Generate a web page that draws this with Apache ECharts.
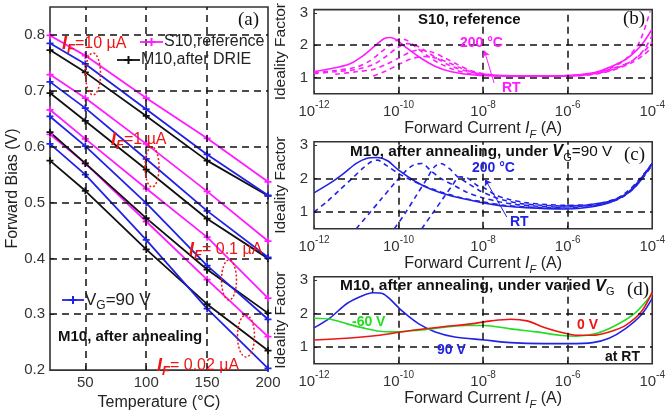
<!DOCTYPE html>
<html>
<head>
<meta charset="utf-8">
<script src="https://cdn.jsdelivr.net/npm/echarts@6/dist/echarts.min.js"></script>
<style>
html, body { margin: 0; padding: 0; background: #fff; }
#main { width: 668px; height: 416px; }
</style>
</head>
<body>
<div id="main"></div>
<script>
// ---- (a) forward bias vs temperature ----
const temps = [21, 50, 100, 150, 200];
const tempTicks = [50, 100, 150, 200];
const biasTicks = [0.2, 0.3, 0.4, 0.5, 0.6, 0.7, 0.8];

// S10, reference (magenta)
const s10_10uA = [0.799, 0.763, 0.687, 0.615, 0.537];
const s10_1uA = [0.729, 0.687, 0.605, 0.520, 0.431];
const s10_01uA = [0.666, 0.614, 0.525, 0.438, 0.329];
const s10_002uA = [0.622, 0.570, 0.466, 0.362, 0.260];
// M10, after DRIE (black)
const drie_10uA = [0.773, 0.733, 0.655, 0.575, 0.512];
const drie_1uA = [0.696, 0.646, 0.559, 0.471, 0.400];
const drie_01uA = [0.626, 0.570, 0.472, 0.380, 0.302];
const drie_002uA = [0.575, 0.521, 0.416, 0.318, 0.235];
// M10, after annealing, VG=90 V (blue)
const ann_10uA = [0.785, 0.748, 0.667, 0.586, 0.513];
const ann_1uA = [0.716, 0.669, 0.578, 0.485, 0.402];
const ann_01uA = [0.654, 0.601, 0.499, 0.387, 0.291];
const ann_002uA = [0.605, 0.550, 0.433, 0.310, 0.203];

// ---- (b)(c)(d) ideality factor vs log10(IF) ----
const idealTicks = [1, 2, 3];

// (b) S10 reference
const bRT = [[-12,1.18],[-11.62,1.27],[-11.16,1.42],[-10.85,1.66],[-10.54,2.0],[-10.34,2.21],[-10.19,2.24],[-10.03,2.15],[-9.84,1.95],[-9.53,1.65],[-9.14,1.35],[-8.75,1.18],[-8.21,1.08],[-7.44,1.05],[-6.5,1.05],[-6,1.06],[-5.5,1.12],[-5.2,1.22],[-4.9,1.38],[-4.64,1.55],[-4.4,1.8],[-4.2,2.1],[-4,2.5]];
const bT1 = [[-12,1.15],[-11.5,1.22],[-11,1.32],[-10.7,1.5],[-10.4,1.8],[-10.15,2.05],[-9.95,2.2],[-9.8,2.15],[-9.6,1.95],[-9.35,1.7],[-9.05,1.45],[-8.7,1.25],[-8.3,1.12],[-7.8,1.06],[-7,1.04],[-6,1.05],[-5.5,1.1],[-5,1.28],[-4.6,1.6],[-4.3,2.1],[-4.05,3.05]];
const bT2 = [[-12,1.12],[-11.5,1.18],[-11,1.25],[-10.6,1.4],[-10.3,1.65],[-10.05,1.9],[-9.8,2.05],[-9.6,2.0],[-9.4,1.85],[-9.1,1.6],[-8.8,1.38],[-8.4,1.2],[-8,1.1],[-7.3,1.05],[-6,1.05],[-5.5,1.1],[-5,1.25],[-4.5,1.5],[-4.2,1.8],[-4,2.1]];
const bT3 = [[-11.5,1.1],[-11,1.18],[-10.6,1.25],[-10.3,1.4],[-10,1.6],[-9.7,1.8],[-9.5,1.85],[-9.2,1.78],[-8.9,1.6],[-8.6,1.4],[-8.3,1.22],[-8,1.12],[-7.5,1.06],[-6,1.05],[-5.5,1.08],[-5,1.2],[-4.5,1.45],[-4.2,1.7],[-4,1.95]];
const bT4 = [[-10.6,1.05],[-10.3,1.2],[-10,1.4],[-9.7,1.58],[-9.4,1.65],[-9.1,1.6],[-8.8,1.45],[-8.5,1.28],[-8.2,1.15],[-7.8,1.08],[-7,1.05],[-6,1.06],[-5.5,1.1],[-5,1.22],[-4.5,1.5],[-4.2,1.85],[-4,2.3]];

// (c) M10 after annealing, VG=90 V
const cRT = [[-12,1.57],[-11.62,1.86],[-11.31,2.14],[-11,2.45],[-10.76,2.6],[-10.5,2.63],[-10.26,2.53],[-9.99,2.24],[-9.6,1.91],[-9.22,1.67],[-8.75,1.48],[-8.21,1.33],[-7.75,1.22],[-7.44,1.17],[-7,1.13],[-6.5,1.1],[-6,1.09],[-5.5,1.14],[-5,1.28],[-4.6,1.55],[-4.3,1.95],[-4,2.45]];
const cT1 = [[-12,1.0],[-11.7,1.3],[-11.4,1.65],[-11.1,2.0],[-10.85,2.3],[-10.65,2.5],[-10.5,2.55],[-10.3,2.4],[-10,2.15],[-9.7,1.95],[-9.4,1.78],[-9,1.6],[-8.5,1.42],[-8,1.3],[-7.5,1.2],[-7,1.15],[-6.5,1.13],[-6,1.12],[-5.5,1.16],[-5,1.3],[-4.6,1.6],[-4.3,1.98],[-4,2.45]];
const cT2 = [[-11.0,0.5],[-10.7,0.95],[-10.4,1.4],[-10.1,1.85],[-9.85,2.2],[-9.65,2.4],[-9.45,2.45],[-9.25,2.25],[-9,2.0],[-8.7,1.8],[-8.4,1.6],[-8.0,1.42],[-7.6,1.3],[-7.2,1.22],[-6.8,1.18],[-6.3,1.15],[-5.8,1.16],[-5.3,1.22],[-4.8,1.38],[-4.4,1.75],[-4,2.45]];
const cT3 = [[-10.1,0.5],[-9.85,0.95],[-9.6,1.45],[-9.35,1.95],[-9.15,2.35],[-9.0,2.45],[-8.8,2.3],[-8.6,2.05],[-8.35,1.85],[-8.1,1.65],[-7.8,1.48],[-7.5,1.35],[-7.1,1.25],[-6.6,1.2],[-6.1,1.18],[-5.6,1.2],[-5.1,1.3],[-4.6,1.55],[-4.3,1.9],[-4,2.45]];
const cT4 = [[-9.45,0.5],[-9.2,0.95],[-8.95,1.4],[-8.75,1.75],[-8.55,2.05],[-8.35,2.0],[-8.15,1.8],[-7.95,1.7],[-7.7,1.5],[-7.4,1.38],[-7.0,1.28],[-6.5,1.22],[-6.0,1.2],[-5.5,1.22],[-5.0,1.32],[-4.6,1.55],[-4.3,1.9],[-4,2.4]];

// (d) M10 after annealing, varied VG, at RT
const dVg90 = [[-12,1.57],[-11.61,1.88],[-11.22,2.30],[-10.84,2.54],[-10.6,2.62],[-10.37,2.59],[-10.22,2.45],[-9.91,2.07],[-9.52,1.69],[-9.13,1.45],[-8.67,1.30],[-7.97,1.21],[-7.35,1.13],[-6.57,1.10],[-5.97,1.10],[-5.41,1.13],[-5.02,1.26],[-4.64,1.54],[-4.25,1.97],[-4,2.45]];
const dVgm60 = [[-12,1.86],[-11.61,1.83],[-11.22,1.69],[-10.84,1.57],[-10.45,1.47],[-10.06,1.45],[-9.52,1.50],[-8.9,1.59],[-8.43,1.64],[-7.97,1.64],[-7.35,1.54],[-6.73,1.45],[-6.19,1.35],[-5.8,1.32],[-5.33,1.40],[-4.87,1.64],[-4.4,2.02],[-4,2.59]];
const dVg0 = [[-12,1.21],[-11.22,1.26],[-10.45,1.35],[-9.67,1.50],[-8.9,1.61],[-8.28,1.69],[-7.81,1.78],[-7.35,1.83],[-6.96,1.78],[-6.57,1.59],[-6.19,1.45],[-5.8,1.35],[-5.41,1.35],[-5.02,1.45],[-4.64,1.64],[-4.25,2.07],[-4,2.64]];

const MAG = '#ff1cff', BLU = '#2222e6', BLK = '#111111', RED = '#ee1515', GRN = '#22dd22';
const FONT = 'Liberation Sans, Arial, sans-serif';
const plus = 'path://M3,0H5V3H8V5H5V8H3V5H0V3H3Z';
const gridStyle = { color: '#111', type: [7, 5], width: 1.5, opacity: 1 };

function gridLines(xs, ys) {
	return {
		silent: true, symbol: 'none', animation: false,
		label: { show: false },
		lineStyle: gridStyle,
		emphasis: { disabled: true },
		data: xs.map(v => ({ xAxis: v })).concat(ys.map(v => ({ yAxis: v })))
	};
}

function tempLine(vals, color) {
	return {
		type: 'line', xAxisIndex: 0, yAxisIndex: 0,
		data: temps.map((t, i) => [t, vals[i]]),
		symbol: plus, symbolSize: 7,
		itemStyle: { color: color },
		lineStyle: { color: color, width: 1.8 }
	};
}

function ifLine(gi, data, color, dashed) {
	return {
		type: 'line', xAxisIndex: gi, yAxisIndex: gi,
		data: data, showSymbol: false, smooth: 0.3,
		lineStyle: { color: color, width: 1.6, type: dashed ? [5, 4] : 'solid' }
	};
}

const grids = [
	{ left: 50, top: 7, width: 218, height: 373 },
	{ left: 314, top: 6.7, width: 344, height: 87 },
	{ left: 314, top: 141.7, width: 344, height: 87 },
	{ left: 314, top: 276.7, width: 344, height: 87 }
].map(g => Object.assign(g, { show: true, borderColor: '#333', borderWidth: 1.6, backgroundColor: 'transparent' }));

const logName = {
	t: { fontSize: 16, lineHeight: 24, color: '#222', fontFamily: FONT },
	i: { fontSize: 16, lineHeight: 24, color: '#222', fontStyle: 'italic', fontFamily: FONT },
	f: { fontSize: 11, lineHeight: 12, color: '#222', fontStyle: 'italic', verticalAlign: 'bottom', fontFamily: FONT }
};

const xAxes = [{
	type: 'value', gridIndex: 0, min: 21, max: 200,
	axisLine: { show: false },
	axisTick: { inside: true, length: 4, customValues: tempTicks, lineStyle: { color: '#333' } },
	axisLabel: { customValues: tempTicks, showMinLabel: true, showMaxLabel: true, fontSize: 15, color: '#333', margin: 5, fontFamily: FONT },
	splitLine: { show: false },
	name: 'Temperature (°C)', nameLocation: 'middle', nameGap: 22,
	nameTextStyle: { fontSize: 16, color: '#222', fontFamily: FONT }
}];
const yAxes = [{
	type: 'value', gridIndex: 0, min: 0.2, max: 0.85,
	axisLine: { show: false },
	axisTick: { inside: true, length: 4, customValues: biasTicks, lineStyle: { color: '#333' } },
	axisLabel: { customValues: biasTicks, showMinLabel: true, showMaxLabel: true, fontSize: 15, color: '#333', margin: 5, fontFamily: FONT, formatter: v => v.toFixed(1) },
	splitLine: { show: false },
	name: 'Forward Bias (V)', nameLocation: 'middle', nameGap: 29,
	nameTextStyle: { fontSize: 16, color: '#222', fontFamily: FONT }
}];
for (let g = 1; g <= 3; g++) {
	xAxes.push({
		type: 'value', gridIndex: g, min: -12, max: -4, interval: 2,
		axisLine: { show: false },
		axisTick: { inside: true, length: 3, lineStyle: { color: '#333' } },
		axisLabel: {
			margin: 7, showMinLabel: true, showMaxLabel: true,
			formatter: v => '{b|10}{s|' + v + '}',
			rich: {
				b: { fontSize: 15, lineHeight: 22, color: '#333', fontFamily: FONT },
				s: { fontSize: 10, lineHeight: 11, color: '#333', verticalAlign: 'top', fontFamily: FONT }
			}
		},
		splitLine: { show: false },
		name: '{t|Forward Current }{i|I}{f|F}{t| (A)}', nameLocation: 'middle', nameGap: 23,
		nameTextStyle: { rich: logName }
	});
	yAxes.push({
		type: 'value', gridIndex: g, min: 0.5, max: 3.1,
		axisLine: { show: false },
		axisTick: { inside: true, length: 3, customValues: idealTicks, lineStyle: { color: '#333' } },
		axisLabel: { customValues: idealTicks, showMinLabel: true, showMaxLabel: true, fontSize: 15, color: '#333', margin: 6, fontFamily: FONT },
		splitLine: { show: false },
		name: 'Ideality Factor', nameLocation: 'middle', nameGap: 15,
		nameTextStyle: { fontSize: 15.5, color: '#222', fontFamily: FONT }
	});
}

const series = [];
// (a)
const aFirst = tempLine(s10_10uA, MAG);
aFirst.markLine = gridLines([50, 100, 150], [0.3, 0.4, 0.5, 0.6, 0.7, 0.8]);
series.push(aFirst);
[s10_1uA, s10_01uA, s10_002uA].forEach(v => series.push(tempLine(v, MAG)));
[drie_10uA, drie_1uA, drie_01uA, drie_002uA].forEach(v => series.push(tempLine(v, BLK)));
[ann_10uA, ann_1uA, ann_01uA, ann_002uA].forEach(v => series.push(tempLine(v, BLU)));

function arrow(from, to, color) {
	return {
		silent: true, animation: false, symbol: ['none', 'arrow'], symbolSize: 6,
		label: { show: false },
		lineStyle: { color: color, width: 1, type: 'solid' },
		data: [[{ coord: from }, { coord: to }]]
	};
}

// (b)
const b0 = ifLine(1, bRT, MAG, false);
b0.markLine = gridLines([-10, -8, -6], [1, 2]);
series.push(b0);
const b1 = ifLine(1, bT1, MAG, true);
b1.markLine = arrow([-7.74, 0.83], [-7.97, 1.83], MAG);
series.push(b1);
[bT2, bT3, bT4].forEach(d => series.push(ifLine(1, d, MAG, true)));

// (c)
const c0 = ifLine(2, cRT, BLU, false);
c0.markLine = gridLines([-10, -8, -6], [1, 2]);
series.push(c0);
const c1 = ifLine(2, cT1, BLU, true);
c1.markLine = arrow([-7.44, 0.85], [-7.95, 1.97], BLU);
series.push(c1);
[cT2, cT3, cT4].forEach(d => series.push(ifLine(2, d, BLU, true)));

// (d)
const d0 = ifLine(3, dVg90, BLU, false);
d0.markLine = gridLines([-10, -8, -6], [1, 2]);
series.push(d0);
series.push(ifLine(3, dVgm60, GRN, false));
series.push(ifLine(3, dVg0, RED, false));

function txt(x, y, text, font, fill, rich, align) {
	return {
		type: 'text', x: x, y: y, z: 100,
		style: { text: text, font: font, fill: fill, rich: rich, align: align || 'left', verticalAlign: 'middle' }
	};
}
const redRich = {
	i: { fontSize: 18, lineHeight: 24, fontWeight: 'bold', fontStyle: 'italic', fill: RED, fontFamily: FONT },
	f: { fontSize: 13, lineHeight: 13, fontWeight: 'bold', fontStyle: 'italic', fill: RED, verticalAlign: 'bottom', fontFamily: FONT },
	t: { fontSize: 16, lineHeight: 24, fill: RED, fontFamily: FONT }
};
const vgRich = {
	v: { fontSize: 17, lineHeight: 24, fill: '#222', fontFamily: FONT },
	g: { fontSize: 12, lineHeight: 12, fill: '#222', verticalAlign: 'bottom', fontFamily: FONT }
};
function titleRich(size) {
	return {
		b: { fontSize: size, lineHeight: 22, fontWeight: 'bold', fill: '#111', fontFamily: FONT },
		v: { fontSize: size + 1, lineHeight: 22, fontWeight: 'bold', fontStyle: 'italic', fill: '#111', fontFamily: FONT },
		g: { fontSize: 11, lineHeight: 11, fill: '#111', verticalAlign: 'bottom', fontFamily: FONT },
		n: { fontSize: size, lineHeight: 22, fill: '#111', fontFamily: FONT }
	};
}
const serif = '19px Liberation Serif, Times New Roman, serif';
const bold14 = 'bold 14px ' + FONT;

function ell(cx, cy, rx, ry) {
	return {
		type: 'ellipse', z: 100, silent: true,
		shape: { cx: cx, cy: cy, rx: rx, ry: ry },
		style: { fill: 'none', stroke: RED, lineWidth: 1.5, lineDash: [2, 2] }
	};
}
function seg(x1, y1, x2, y2, color, w) {
	return { type: 'line', z: 100, silent: true, shape: { x1: x1, y1: y1, x2: x2, y2: y2 }, style: { stroke: color, lineWidth: w } };
}
function legendLine(x1, x2, y, color) {
	const m = (x1 + x2) / 2;
	return [seg(x1, y, x2, y, color, 1.8), seg(m, y - 4, m, y + 4, color, 2), seg(m - 4, y, m + 4, y, color, 2)];
}

const graphic = [
	txt(238, 20, '(a)', serif, '#111'),
	txt(623, 19, '(b)', serif, '#111'),
	txt(624, 155, '(c)', serif, '#111'),
	txt(627, 290, '(d)', serif, '#111'),
	...legendLine(140, 163, 42, MAG),
	txt(164, 42, 'S10,reference', '16px ' + FONT, '#222'),
	...legendLine(117, 140, 60, BLK),
	txt(141, 60, 'M10,after DRIE', '16px ' + FONT, '#222'),
	...legendLine(62, 84, 300, BLU),
	txt(85, 300, '{v|V}{g|G}{v|=90 V}', '', '#222', vgRich),
	txt(58, 337, 'M10, after annealing', 'bold 15px ' + FONT, '#111'),
	txt(62, 44, '{i|I}{f|F}{t|=10 µA}', '', RED, redRich),
	txt(111, 140, '{i|I}{f|F}{t|=1 µA}', '', RED, redRich),
	txt(189, 250, '{i|I}{f|F}{t|= 0.1 µA}', '', RED, redRich),
	txt(157, 366, '{i|I}{f|F}{t|= 0.02 µA}', '', RED, redRich),
	ell(93, 74, 7.5, 21),
	ell(152, 167, 7, 20),
	ell(229, 280, 7.5, 20),
	ell(246, 336, 8.5, 21),
	txt(418, 20, 'S10, reference', 'bold 15px ' + FONT, '#111'),
	txt(460, 43, '200 °C', bold14, MAG),
	txt(502, 88, 'RT', bold14, MAG),
	txt(350, 152, '{b|M10, after annealing, under }{v|V}{g|G}{n|=90 V}', '', '#111', titleRich(15.3)),
	txt(472, 168, '200 °C', bold14, BLU),
	txt(510, 222, 'RT', bold14, BLU),
	txt(340, 286, '{b|M10, after annealing, under varied }{v|V}{g|G}', '', '#111', titleRich(15.5)),
	txt(352, 322, '-60 V', bold14, GRN),
	txt(577, 325, '0 V', bold14, RED),
	txt(437, 350, '90 V', bold14, BLU),
	txt(605, 357, 'at RT', bold14, '#111')
];

const chart = echarts.init(document.getElementById('main'));
chart.setOption({
	animation: false,
	backgroundColor: '#fff',
	grid: grids,
	xAxis: xAxes,
	yAxis: yAxes,
	series: series,
	graphic: graphic
});
</script>
</body>
</html>
